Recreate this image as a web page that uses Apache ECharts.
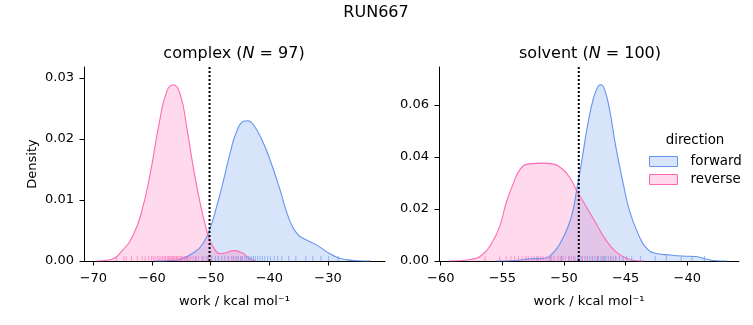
<!DOCTYPE html>
<html>
<head>
<meta charset="utf-8">
<script src="https://cdn.jsdelivr.net/npm/echarts@6/dist/echarts.min.js"></script>
<style>html,body{margin:0;padding:0;background:#fff}#c{width:753px;height:325px}</style>
</head>
<body>
<div id="c"></div>
<script>
// ---- data ----
const complexFwdKDE = [[-59.5,0],[-56.5,0.0001],[-55.2,0.0003],[-53.0,0.0013],[-51.3,0.0029],[-50.1,0.0054],[-49.0,0.0089],[-47.8,0.0133],[-46.7,0.0177],[-45.6,0.0212],[-44.4,0.0229],[-43.7,0.0230],[-42.7,0.0223],[-41.3,0.0199],[-39.9,0.0166],[-38.2,0.0117],[-36.8,0.0073],[-35.3,0.0045],[-33.6,0.0034],[-31.9,0.0026],[-30.2,0.0015],[-28.5,0.0006],[-26.8,0.0002],[-25.1,0.00003],[-22.8,0]];
const complexRevKDE = [[-69.4,0],[-67.2,0.0002],[-65.0,0.0018],[-63.2,0.0043],[-61.8,0.0080],[-60.3,0.0144],[-58.9,0.0220],[-57.5,0.0278],[-56.4,0.0289],[-55.2,0.0273],[-54.1,0.0220],[-53.0,0.0155],[-51.8,0.0095],[-50.7,0.0050],[-50.2,0.0035],[-49.5,0.0022],[-48.5,0.0012],[-47.6,0.0013],[-46.0,0.0017],[-44.6,0.0013],[-43.4,0.0004],[-42.3,0]];
const solventFwdKDE = [[-55.5,0],[-54.0,0.0002],[-52.8,0.0008],[-51.7,0.0010],[-50.9,0.0030],[-50.1,0.0087],[-49.4,0.0170],[-48.9,0.0292],[-48.5,0.0401],[-48.1,0.0517],[-47.6,0.0626],[-47.2,0.0673],[-47.0,0.0677],[-46.7,0.0658],[-46.3,0.0581],[-45.8,0.0440],[-45.2,0.0299],[-44.7,0.0196],[-44.0,0.0106],[-43.3,0.0049],[-42.5,0.0029],[-41.4,0.0023],[-40.4,0.0019],[-39.3,0.0017],[-38.5,0.0008],[-37.6,0.0001],[-36.8,0]];
const solventRevKDE = [[-59.3,0],[-57.6,0.0006],[-56.6,0.0025],[-55.8,0.0074],[-55.2,0.0135],[-54.7,0.0222],[-54.1,0.0299],[-53.5,0.0356],[-52.8,0.0373],[-51.7,0.0376],[-50.9,0.0373],[-50.2,0.0356],[-49.5,0.0318],[-49.0,0.0273],[-48.2,0.0209],[-47.4,0.0145],[-46.6,0.0081],[-45.8,0.0036],[-44.9,0.0010],[-44.1,0.0001],[-43.5,0]];

const complexFwdWork = [-54.0,-52.5,-51.3,-50.5,-49.8,-49.2,-48.7,-48.1,-47.6,-47.0,-46.5,-46.1,-45.7,-45.3,-44.9,-44.6,-44.2,-43.9,-43.6,-43.3,-43.0,-42.7,-42.4,-42.0,-41.6,-41.2,-40.8,-40.3,-39.8,-39.2,-38.6,-37.9,-36.7,-35.5,-33.8,-32.6,-31.2,-29.9,-28.3];
const complexRevWork = [-66.1,-64.8,-64.4,-63.5,-62.5,-61.7,-61.2,-60.6,-60.1,-59.8,-59.5,-59.1,-58.8,-58.5,-58.2,-57.9,-57.7,-57.4,-57.2,-57.0,-56.8,-56.6,-56.5,-56.3,-56.1,-55.9,-55.8,-55.6,-55.4,-55.2,-55.0,-54.8,-54.5,-54.3,-54.0,-53.7,-53.4,-53.0,-52.6,-52.1,-51.5,-50.8,-50.4,-47.0,-46.2,-45.5,-44.8];
const solventFwdWork = [-52.2,-51.1,-50.2,-49.6,-49.2,-48.9,-48.6,-48.3,-48.1,-47.9,-47.7,-47.5,-47.3,-47.2,-47.0,-46.9,-46.7,-46.6,-46.4,-46.2,-46.0,-45.8,-45.5,-45.2,-44.9,-44.5,-43.8,-42.6,-41.7,-40.5,-39.6,-38.6];
const solventRevWork = [-56.4,-55.2,-54.7,-54.3,-54.0,-53.7,-53.4,-53.1,-52.9,-52.6,-52.4,-52.1,-51.9,-51.7,-51.4,-51.2,-51.0,-50.8,-50.5,-50.3,-50.1,-49.9,-49.6,-49.4,-49.1,-48.8,-48.5,-48.1,-47.7,-47.3,-46.8,-46.2,-45.8];

const freeEnergy = [-50.2, -48.8];           // dotted reference lines (complex, solvent)
const complexXTicks = [-70,-60,-50,-40,-30];
const solventXTicks = [-60,-55,-50,-45,-40];
const complexYTicks = [0,0.01,0.02,0.03];
const solventYTicks = [0,0.02,0.04,0.06];
const panelTitles = ['complex', 'solvent'];
const panelN = [97, 100];
const directions = ['forward', 'reverse'];

// ---- styling ----
const FONT = 'DejaVu Sans';
const BLUE = '#6495ED', PINK = '#FF69B4';
const fmtX = v => (v < 0 ? '\u2212' : '') + Math.abs(v);
const fmtY = v => v.toFixed(2);

function xAxis(idx, min, max, ticks) {
  return {
    type:'value', gridIndex: idx, min, max,
    name:'work / kcal mol\u207B\u00B9', nameLocation:'middle', nameGap:34,
    nameTextStyle:{fontFamily:FONT, fontSize:13, color:'#000'},
    axisLine:{show:true, lineStyle:{color:'#000', width:1}},
    axisTick:{show:true, length:4.5, lineStyle:{color:'#000'}, customValues:ticks},
    axisLabel:{fontFamily:FONT, fontSize:13, color:'#000', margin:11, formatter:fmtX, customValues:ticks},
    splitLine:{show:false}
  };
}
function yAxis(idx, max, ticks, name) {
  return {
    type:'value', gridIndex: idx, min:0, max,
    name: name, nameLocation:'middle', nameGap:45,
    nameTextStyle:{fontFamily:FONT, fontSize:13, color:'#000'},
    axisLine:{show:true, lineStyle:{color:'#000', width:1}},
    axisTick:{show:true, length:4.5, lineStyle:{color:'#000'}, customValues:ticks},
    axisLabel:{fontFamily:FONT, fontSize:13, color:'#000', margin:10, formatter:fmtY, customValues:ticks},
    splitLine:{show:false}
  };
}
function kde(name, data, idx, color) {
  return {
    name, type:'line', xAxisIndex:idx, yAxisIndex:idx, data,
    smooth:0.5, showSymbol:false, symbol:'none', silent:true,
    lineStyle:{color, width:1.1}, itemStyle:{color},
    areaStyle:{color, opacity:0.25}, z:2
  };
}
function rug(name, vals, idx, color) {
  return {
    name, type:'scatter', xAxisIndex:idx, yAxisIndex:idx,
    data: vals.map(v => [v, 0]), symbol:'rect', symbolSize:[1,5], symbolOffset:[0,-2.5],
    itemStyle:{color, opacity:0.6}, silent:true, z:3
  };
}
function vline(idx, x, ymax) {
  return {
    type:'line', xAxisIndex:idx, yAxisIndex:idx, data:[[x,0],[x,ymax]],
    showSymbol:false, symbol:'none', silent:true,
    lineStyle:{color:'#000', width:2, type:[2,2]}, z:5
  };
}
const yMax = [0.0318, 0.0745];
const titleStyle = {fontFamily:FONT, fontSize:16, fontWeight:'normal', color:'#000',
  rich:{i:{fontFamily:FONT, fontSize:16, fontStyle:'italic', color:'#000'}}};

const chart = echarts.init(document.getElementById('c'), null, {renderer:'canvas'});
chart.setOption({
  animation:false,
  backgroundColor:'#fff',
  title:[
    {text:'RUN667', left:376, top:5, padding:0, textAlign:'center', textStyle:titleStyle},
    {text: panelTitles[0] + ' ({i|N} = ' + panelN[0] + ')', left:234, top:46, padding:0, textAlign:'center', textStyle:titleStyle},
    {text: panelTitles[1] + ' ({i|N} = ' + panelN[1] + ')', left:590, top:46, padding:0, textAlign:'center', textStyle:titleStyle},
    {text:'direction', left:695, top:134, padding:0, textAlign:'center', textStyle:{fontFamily:FONT, fontSize:13.4, fontWeight:'normal', color:'#000'}}
  ],
  legend:{
    orient:'vertical', left:649, top:155, itemWidth:28, itemHeight:10, itemGap:5, padding:0,
    icon:'rect',
    formatter:'{a|{name}}',
    textStyle:{fontFamily:FONT, fontSize:13.4, color:'#000',
      rich:{a:{fontFamily:FONT, fontSize:13.4, color:'#000', padding:[0,0,0,8], lineHeight:15}}},
    data:[
      {name:directions[0], itemStyle:{color:'rgba(100,149,237,0.25)', borderColor:BLUE, borderWidth:1}},
      {name:directions[1], itemStyle:{color:'rgba(255,105,180,0.25)', borderColor:PINK, borderWidth:1}}
    ],
    selectedMode:false
  },
  grid:[
    {left:84, top:67, width:301, height:194},
    {left:439, top:67, width:300, height:194}
  ],
  xAxis:[xAxis(0, -71.6, -20.3, complexXTicks), xAxis(1, -60.14, -35.8, solventXTicks)],
  yAxis:[yAxis(0, yMax[0], complexYTicks, 'Density'), yAxis(1, yMax[1], solventYTicks, '')],
  series:[
    kde(directions[0], complexFwdKDE, 0, BLUE),
    kde(directions[1], complexRevKDE, 0, PINK),
    rug(directions[0], complexFwdWork, 0, BLUE),
    rug(directions[1], complexRevWork, 0, PINK),
    vline(0, freeEnergy[0], yMax[0]),
    kde(directions[0], solventFwdKDE, 1, BLUE),
    kde(directions[1], solventRevKDE, 1, PINK),
    rug(directions[0], solventFwdWork, 1, BLUE),
    rug(directions[1], solventRevWork, 1, PINK),
    vline(1, freeEnergy[1], yMax[1])
  ]
});
</script>
</body>
</html>
